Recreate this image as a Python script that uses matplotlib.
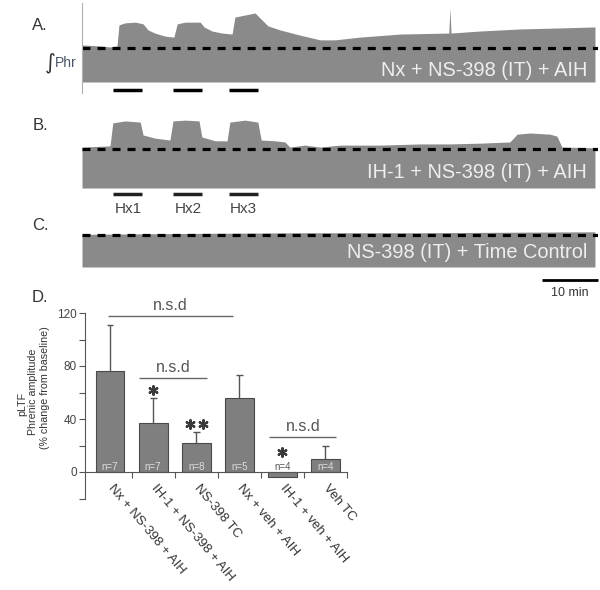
import matplotlib.pyplot as plt
import numpy as np

plt.rcParams['font.family'] = ['Liberation Sans', 'DejaVu Sans']

W, H = 600, 590

# --- phrenic traces: time (min) and integrated amplitude (baseline = 1) ---
a_time = [0, 3.2, 5.0, 6.25, 6.6, 7.7, 9.5, 10.9, 11.8, 13.0, 14.8, 16.4, 17.0, 18.4,
          21.1, 21.8, 23.2, 25.0, 26.8, 27.3, 29.1, 30.9, 31.8, 33.2, 35.4, 38.9,
          42.5, 45.2, 49.6, 56.8, 65.5, 65.7, 65.9, 71.1, 78.2, 85.4, 91.6]
a_env = [1.09, 1.06, 1.03, 1.06, 1.68, 1.74, 1.76, 1.71, 1.53, 1.44, 1.35, 1.32, 1.71, 1.76,
         1.76, 1.62, 1.50, 1.44, 1.41, 1.91, 1.97, 2.03, 1.88, 1.65, 1.53, 1.38,
         1.24, 1.24, 1.32, 1.41, 1.44, 2.18, 1.44, 1.50, 1.56, 1.59, 1.62]

b_time = [0, 5.0, 5.5, 7.7, 10.4, 10.9, 13.0, 15.7, 16.25, 18.4, 20.9, 21.4, 23.75, 25.9,
          26.4, 29.1, 31.4, 32.0, 34.5, 36.25, 37.1, 39.8, 42.5, 46.1, 53.2, 60.4,
          65.7, 71.1, 76.4, 77.7, 80.0, 83.6, 84.8, 85.7, 91.6]
b_env = [1.05, 1.08, 1.67, 1.72, 1.69, 1.36, 1.28, 1.23, 1.72, 1.74, 1.72, 1.31, 1.21, 1.21,
         1.69, 1.74, 1.69, 1.23, 1.21, 1.18, 1.05, 1.10, 1.05, 1.10, 1.10, 1.13,
         1.13, 1.15, 1.18, 1.38, 1.41, 1.38, 1.33, 1.05, 1.03]

c_time = [0, 20, 40, 60, 80, 91.6]
c_env = [1.02, 1.05, 1.07, 1.07, 1.09, 1.10]

trace_labels = ['Nx + NS-398 (IT) + AIH', 'IH-1 + NS-398 (IT) + AIH', 'NS-398 (IT) + Time Control']
hx_start = [5.6, 16.3, 26.2]
hx_len = 5.2
hx_names = ['Hx1', 'Hx2', 'Hx3']

# --- pLTF bar data ---
groups = ['Nx + NS-398 + AIH', 'IH-1 + NS-398 + AIH', 'NS-398 TC',
          'Nx + veh + AIH', 'IH-1 + veh + AIH', 'Veh TC']
means = [76, 37, 22, 56, -4, 10]
sems = [35, 19, 8, 17, 0, 10]
n_sizes = [7, 7, 8, 5, 4, 4]
n_stars = [0, 1, 2, 0, 1, 0]

fig = plt.figure(figsize=(6, 5.9), dpi=100)


def px_axes(x0, y0, x1, y1):
    return fig.add_axes([x0 / W, 1 - y1 / H, (x1 - x0) / W, (y1 - y0) / H])


trace_gray = '#8a8a8a'
tmax = (598 - 82) / 5.6


def trace_panel(y0, y1, bottom_px, base_px, t, env, label, text_px):
    scale = bottom_px - base_px
    ax = px_axes(82, y0, 598, y1)
    ax.set_xlim(0, tmax)
    ax.set_ylim((bottom_px - y1) / scale, (bottom_px - y0) / scale)
    ax.fill_between(t, 0, env, color=trace_gray, lw=0)
    ax.axhline(1.0, color='black', lw=2.3, dashes=(2.5, 2.2))
    ax.text(90.2, (bottom_px - text_px) / scale, label, ha='right', va='center',
            color='#eeeeee', fontsize=14.4)
    for s in ax.spines.values():
        s.set_visible(False)
    ax.set_xticks([])
    ax.set_yticks([])
    ax.patch.set_alpha(0)
    return ax, scale


# panel A
axA, sA = trace_panel(3, 93, 82, 48, a_time, a_env, trace_labels[0], 71)
axA.spines['left'].set_visible(True)
axA.spines['left'].set_color('#b0b0b0')
axA.spines['left'].set_linewidth(0.8)
axA.hlines([(82 - 89.5) / sA] * 3, hx_start, [s + hx_len for s in hx_start],
           color='black', lw=2.5, clip_on=False)

# panel B
axB, sB = trace_panel(110, 215, 188, 149, b_time, b_env, trace_labels[1], 173)
axB.hlines([(188 - 194) / sB] * 3, hx_start, [s + hx_len for s in hx_start],
           color='#222222', lw=2.5, clip_on=False)
for s, name in zip(hx_start, hx_names):
    axB.text(s + hx_len / 2, (188 - 209) / sB, name, ha='center', va='center',
             fontsize=11, color='#444444')

# panel C
axC, sC = trace_panel(212, 300, 267, 235, c_time, c_env, trace_labels[2], 252)
axC.hlines((267 - 280) / sC, tmax - 10, tmax, color='black', lw=2.0, clip_on=False)
axC.text(tmax - 5, (267 - 293) / sC, '10 min', ha='center', va='center',
         fontsize=9, color='#333333', clip_on=False)

# panel letters and integral sign
for lab, y in [('A.', 25), ('B.', 125), ('C.', 225), ('D.', 298)]:
    fig.text(40 / W, 1 - y / H, lab, ha='center', va='center', fontsize=12, color='#333333')
fig.text(50 / W, 1 - 63 / H, '\u222b', ha='center', va='center', fontsize=15, color='#333333',
         family=['DejaVu Sans'])
fig.text(55 / W, 1 - 63 / H, 'Phr', ha='left', va='center', fontsize=10, color='#4a5566')

# --- panel D bar chart ---
axD = px_axes(85, 313, 347, 498.5)
x = np.arange(len(groups))
axD.bar(x, means, width=0.67, color='#7f7f7f', edgecolor='#4a4a4a', lw=0.8, zorder=2)
for xi, m, s in zip(x, means, sems):
    if s > 0:
        axD.vlines(xi, m, m + s, color='#555555', lw=1.0, zorder=1)
        axD.hlines(m + s, xi - 0.08, xi + 0.08, color='#555555', lw=1.0, zorder=1)
axD.set_xlim(-0.58, 5.5)
axD.set_ylim(-20, 120)
axD.spines['top'].set_visible(False)
axD.spines['right'].set_visible(False)
axD.spines['bottom'].set_position(('data', 0))
axD.spines['left'].set_bounds(-20, 120)
for s in ['left', 'bottom']:
    axD.spines[s].set_color('#555555')
    axD.spines[s].set_linewidth(0.8)
yt = np.arange(-20, 121, 20)
axD.set_yticks(yt)
axD.set_yticklabels([str(v) if v >= 0 and v % 40 == 0 else '' for v in yt])
axD.tick_params(axis='y', direction='out', length=4, width=0.8, color='#555555',
                labelsize=8.5, labelcolor='#444444', pad=2)
axD.set_xticks(np.arange(0.5, 5.6, 1.0))
axD.set_xticklabels([])
axD.tick_params(axis='x', which='major', direction='out', length=4, width=0.8, color='#555555')
axD.set_xticks(x, minor=True)
axD.set_xticklabels(groups, minor=True)
axD.tick_params(axis='x', which='minor', length=0, pad=10, labelsize=9.5, labelcolor='#333333')
for t in axD.get_xticklabels(minor=True):
    t.set_rotation(-50)
    t.set_rotation_mode('anchor')
    t.set_ha('left')
    t.set_va('center')
axD.patch.set_alpha(0)

for xi, n, m in zip(x, n_sizes, means):
    axD.text(xi, 3.8, 'n=%d' % n, ha='center', va='center', fontsize=7,
             color='#dddddd' if m > 5 else '#555555', zorder=3)

# significance asterisks just above error bars
for xi, k, m, s in zip(x, n_stars, means, sems):
    if k == 0:
        continue
    ys = max(m + s, 0) + (6 if m + s > 0 else 15)
    offs = [0] if k == 1 else [-0.15, 0.15]
    axD.scatter([xi + o for o in offs], [ys] * k, marker=(6, 2, 0), s=38,
                color='#3a3a3a', lw=1.6, zorder=3)

# n.s.d brackets
for x0, x1, yl in [(-0.05, 2.85, 118), (0.67, 2.25, 71), (3.7, 5.25, 26.5)]:
    axD.hlines(yl, x0, x1, color='#666666', lw=1.0, clip_on=False)
    axD.text((x0 + x1) / 2, yl + 7.5, 'n.s.d', ha='center', va='center', fontsize=11.5,
             color='#555555', clip_on=False)

fig.text(22 / W, 1 - 404 / H, 'pLTF', rotation=90, ha='center', va='center', fontsize=7.7, color='#333333')
fig.text(33 / W, 1 - 392 / H, 'Phrenic amplitude', rotation=90, ha='center', va='center',
         fontsize=7.7, color='#333333')
fig.text(45 / W, 1 - 388 / H, '(% change from baseline)', rotation=90, ha='center', va='center',
         fontsize=7.7, color='#333333')

fig.savefig('out.png', dpi=100)
